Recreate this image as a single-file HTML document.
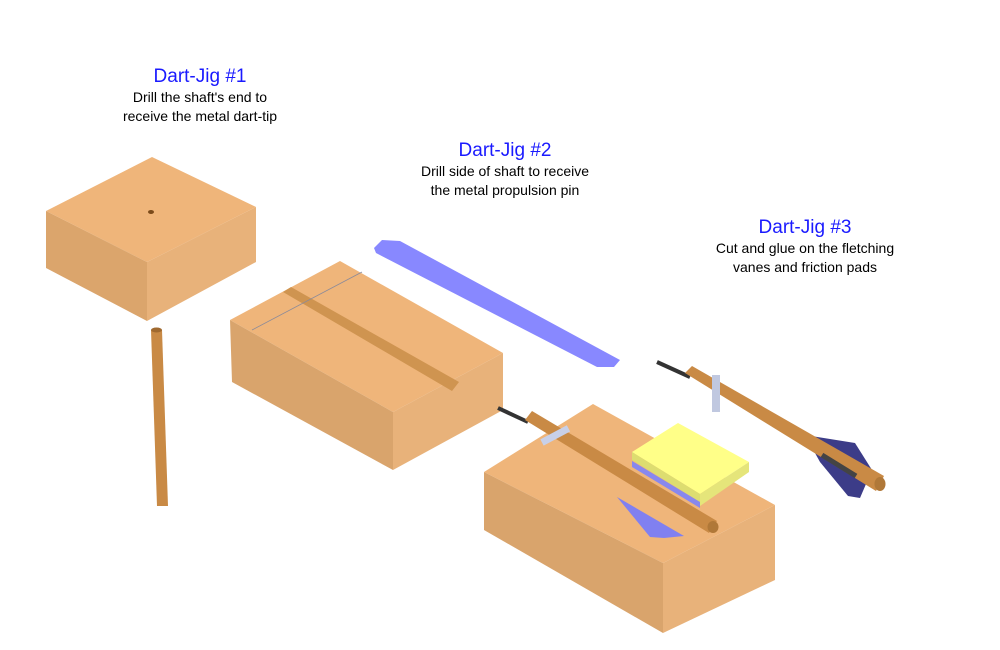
<!DOCTYPE html>
<html><head><style>
body{margin:0;background:#fff;width:1000px;height:650px;overflow:hidden;font-family:"Liberation Sans",Arial,sans-serif}
.t{position:absolute;text-align:center;color:#000;font-size:14px;line-height:19px}
.t b{display:block;font-weight:normal;color:#1a1aff;font-size:19px;line-height:22px}
</style></head><body>
<svg width="1000" height="650" style="position:absolute;left:0;top:0">
<polygon points="46,211 152,157 256,207 147,262" fill="#efb57a"/>
<polygon points="46,211 147,262 147,321 46,268" fill="#dba56c"/>
<polygon points="147,262 256,207 256,262 147,321" fill="#e8b27a"/>
<ellipse cx="151" cy="212" rx="3" ry="2" fill="#7a4a1a"/>
<polygon points="151,330 162,330 168,506 157,506" fill="#c98a45"/>
<ellipse cx="156.5" cy="330" rx="5.5" ry="2.5" fill="#a06a30"/>
<polygon points="230,320 340,261 503,353 393,412" fill="#efb57a"/>
<polygon points="230,320 393,412 393,470 232,382" fill="#d9a46c"/>
<polygon points="393,412 503,353 503,410 393,470" fill="#e8b27a"/>
<polygon points="283,292 291,287 459,382 452,391" fill="#cf9450"/>
<line x1="252" y1="330" x2="362" y2="272" stroke="#8a8a9a" stroke-width="0.8"/>
<polygon points="374,248 382,240 400,241 620,360 614,367 597,367 376,253" fill="#8888ff"/>
<polygon points="484,472 593,404 775,505 663,563" fill="#efb57a"/>
<polygon points="484,472 663,563 663,633 484,530" fill="#d9a46c"/>
<polygon points="663,563 775,505 775,580 663,633" fill="#e8b27a"/>
<line x1="498" y1="408" x2="528" y2="422" stroke="#333" stroke-width="4"/>
<polygon points="525,420 532,411 717,521 709,533" fill="#c98a45"/>
<ellipse cx="713" cy="527" rx="5.5" ry="6" fill="#b07838"/>
<rect x="540" y="432" width="30" height="7" fill="#c8d0e8" transform="rotate(-28 555 435)"/>
<polygon points="617,497 684,536 664,538 650,537" fill="#8080f0"/>
<polygon points="632,452 678,423 749,462 700,494" fill="#ffff88"/>
<polygon points="632,452 700,494 700,502 632,460" fill="#dddd70"/>
<polygon points="632,461 700,502 700,508 632,467" fill="#8888ee"/>
<polygon points="700,494 749,462 749,472 700,506" fill="#e5e57a"/>
<line x1="657" y1="362" x2="690" y2="377" stroke="#333" stroke-width="4"/>
<polygon points="805,435 855,443 872,470 860,498 848,496 820,462" fill="#3c3c88"/>
<polygon points="685,373 692,366 884,476 876,491" fill="#c98a45"/>
<ellipse cx="880" cy="484" rx="5.5" ry="7" fill="#b07838"/>
<line x1="822" y1="455" x2="856" y2="476" stroke="#444" stroke-width="5"/>
<rect x="712" y="375" width="8" height="37" fill="#c0c8e0"/>
</svg>
<div class="t" style="left:100px;top:66px;width:200px"><b>Dart-Jig #1</b>Drill the shaft's end to<br>receive the metal dart-tip</div>
<div class="t" style="left:400px;top:140px;width:210px"><b>Dart-Jig #2</b>Drill side of shaft to receive<br>the metal propulsion pin</div>
<div class="t" style="left:690px;top:217px;width:230px"><b>Dart-Jig #3</b>Cut and glue on the fletching<br>vanes and friction pads</div>
</body></html>
